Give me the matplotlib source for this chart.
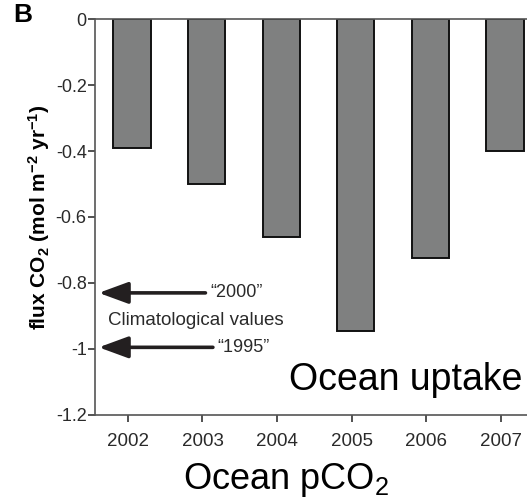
import matplotlib
matplotlib.use("Agg")
import matplotlib.pyplot as plt
import numpy as np

plt.rcParams["font.family"] = ["Liberation Sans", "DejaVu Sans"]
plt.rcParams["mathtext.fontset"] = "custom"
plt.rcParams["mathtext.rm"] = "Liberation Sans"
plt.rcParams["mathtext.it"] = "Liberation Sans:italic"
plt.rcParams["mathtext.bf"] = "Liberation Sans:bold"

# ── Data ──────────────────────────────────────────────────────────────────────
years = ["2002", "2003", "2004", "2005", "2006", "2007"]
flux = [-0.39, -0.50, -0.66, -0.945, -0.725, -0.40]

clim_labels = ["\u201c2000\u201d", "\u201c1995\u201d"]
clim_values = [-0.83, -0.995]

# ── Figure ────────────────────────────────────────────────────────────────────
fig = plt.figure(figsize=(5.27, 5.03), dpi=100)
ax = fig.add_axes([0.1803, 0.175, 0.8197, 0.7872])

x = np.arange(len(years))
ax.bar(x + 0.055, flux, width=0.5, color="#7f8080", edgecolor="#111111",
       linewidth=1.4, zorder=2)

ax.set_xlim(-0.44, 5.35)
ax.set_ylim(-1.2, 0)
ax.set_xticks(x)
ax.set_xticklabels(years)
ax.set_yticks([0, -0.2, -0.4, -0.6, -0.8, -1.0, -1.2])
ax.set_yticklabels(["0", "-0.2", "-0.4", "-0.6", "-0.8", "-1", "-1.2"])

for side in ["left", "bottom", "top"]:
    ax.spines[side].set_color("#555555")
    ax.spines[side].set_linewidth(1.2)
ax.spines["right"].set_visible(False)
ax.tick_params(axis="both", direction="out", length=5, width=1.2,
               color="#333333", labelcolor="#2a2a2a", labelsize=13)
ax.tick_params(axis="x", labelsize=13.5, pad=8)
ax.tick_params(axis="y", pad=1)

ax.set_ylabel(r"flux CO$_\mathbf{2}$ (mol m$^\mathbf{-2}$ yr$^\mathbf{-1}$)",
              fontsize=15, fontweight="bold", labelpad=3)
ax.set_xlabel("Ocean pCO$_2$", fontsize=26)
ax.xaxis.set_label_coords(0.442, -0.115)

ax.text(0.99, 0.063, "Ocean uptake", transform=ax.transAxes, fontsize=27,
        ha="right", va="baseline", color="black")

# Climatological arrows
tails = [1.04, 1.14]
for lab, val, tail in zip(clim_labels, clim_values, tails):
    ax.annotate("", xy=(-0.39, val), xytext=(tail, val),
                arrowprops=dict(arrowstyle="-|>,head_length=0.9,head_width=0.33",
                                mutation_scale=20, lw=2.6, color="#231f20",
                                shrinkA=0, shrinkB=0))
    ax.text(tail + 0.06, val, lab, fontsize=13, ha="left", va="center",
            color="#2a2a2a")
ax.text(-0.26, -0.913, "Climatological values", fontsize=13.5, ha="left",
        va="center", color="#2a2a2a")

fig.text(0.025, 0.97, "B", fontsize=19, fontweight="bold", ha="left", va="center")

fig.savefig("out.png", dpi=100)
